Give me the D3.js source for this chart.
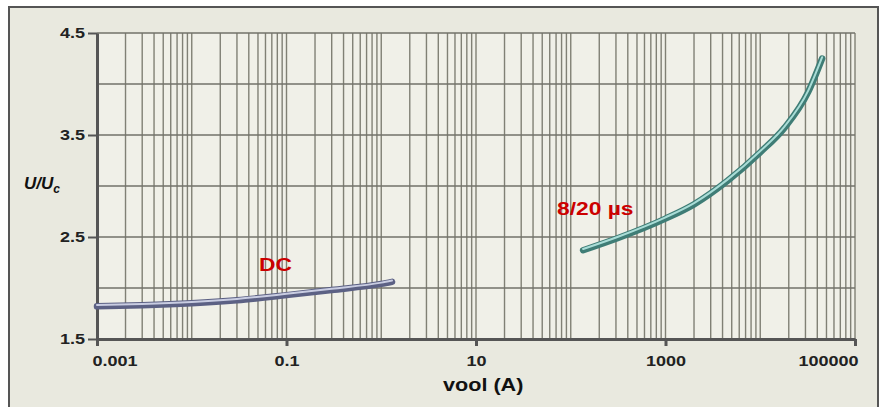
<!DOCTYPE html>
<html>
<head>
<meta charset="utf-8">
<script src="https://cdn.jsdelivr.net/npm/d3@7"></script>
<style>
  body { margin: 0; background: #fff; }
  svg { display: block; font-family: "Liberation Sans", Arial, sans-serif; }
</style>
</head>
<body>
<svg id="chart" width="880" height="407"></svg>
<script>
// current (A) vs U/Uc
const dcCurrent = [0.001, 0.003, 0.01, 0.03, 0.1, 0.3, 1, 1.3];
const dcRatio = [1.82, 1.83, 1.85, 1.88, 1.93, 1.98, 2.04, 2.06];

const surgeCurrent = [135, 316, 1000, 2000, 4500, 10000, 18000, 32000, 45000];
const surgeRatio = [2.37, 2.49, 2.68, 2.82, 3.05, 3.33, 3.57, 3.92, 4.25];

const xTicks = [0.001, 0.1, 10, 1000, 100000];
const xTickLabels = ["0.001", "0.1", "10", "1000", "100000"];
const yTicks = [1.5, 2.5, 3.5, 4.5];
const yGrid = [1.5, 2, 2.5, 3, 3.5, 4, 4.5];

const svg = d3.select("#chart");
const margin = { top: 33, right: 25, bottom: 68, left: 97 };
const width = 880 - margin.left - margin.right;
const height = 407 - margin.top - margin.bottom;

// the source picture is a bit wider than tall, stretch text to match
const stretch = 1.2;
function widen(sel) {
    sel.each(function () {
        const w = this.getComputedTextLength();
        d3.select(this).attr("textLength", w * stretch).attr("lengthAdjust", "spacingAndGlyphs");
    });
}

// frame
svg.append("rect").attr("width", 880).attr("height", 407).attr("fill", "#fff");
svg.append("rect")
    .attr("x", 9).attr("y", 7).attr("width", 869).attr("height", 410)
    .attr("fill", "#e9e9df").attr("stroke", "#555").attr("stroke-width", 2);

const x = d3.scaleLog().domain([0.001, 100000]).range([0, width]);
const y = d3.scaleLinear().domain([1.5, 4.5]).range([height, 0]);

const g = svg.append("g")
    .attr("transform", "translate(" + margin.left + "," + margin.top + ")");

g.append("rect")
    .attr("width", width).attr("height", height)
    .attr("fill", "#f0f0e8");

// log grid: 1..9 in every decade
const minor = [];
for (let e = -3; e < 5; e++) {
    for (let k = 1; k < 10; k++) minor.push(k * Math.pow(10, e));
}
minor.push(100000);

g.append("g").selectAll("line")
    .data(minor)
    .enter().append("line")
    .attr("x1", d => x(d)).attr("x2", d => x(d))
    .attr("y1", 0).attr("y2", height)
    .attr("stroke", "#808075").attr("stroke-width", 1.4);

g.append("g").selectAll("line")
    .data(yGrid)
    .enter().append("line")
    .attr("x1", 0).attr("x2", width)
    .attr("y1", d => y(d)).attr("y2", d => y(d))
    .attr("stroke", "#72726a").attr("stroke-width", 1.6);

// axes
const xAxis = g.append("g")
    .attr("transform", "translate(0," + height + ")")
    .call(d3.axisBottom(x).tickValues(xTicks).tickSize(7).tickSizeOuter(0)
        .tickFormat((d, i) => xTickLabels[i]));
xAxis.select(".domain").attr("stroke", "#555").attr("stroke-width", 3);
xAxis.selectAll(".tick line").attr("stroke", "#555").attr("stroke-width", 3);
xAxis.selectAll(".tick text").attr("dy", "1.15em").attr("y", 10);
// end labels sit inside the plot width
xAxis.selectAll(".tick text")
    .filter((d, i) => i === 0).attr("text-anchor", "start").attr("x", -5);
xAxis.selectAll(".tick text")
    .filter((d, i) => i === xTicks.length - 1).attr("text-anchor", "end").attr("x", 3);

const yAxis = g.append("g")
    .call(d3.axisLeft(y).tickValues(yTicks).tickSize(9).tickSizeOuter(0)
        .tickFormat(d3.format(".1f")));
yAxis.select(".domain").attr("stroke", "#555").attr("stroke-width", 3);
yAxis.selectAll(".tick line").attr("stroke", "#555").attr("stroke-width", 2);
yAxis.selectAll(".tick text").attr("x", -12);

[xAxis, yAxis].forEach(a => a.attr("font-size", null).attr("font-family", null));
const tickText = svg.selectAll(".tick text")
    .attr("font-size", 15).attr("font-weight", "bold").attr("fill", "#222");
widen(tickText);

// curves
const line = d3.line()
    .x(d => x(d[0]))
    .y(d => y(d[1]))
    .curve(d3.curveMonotoneX);

const dcData = d3.zip(dcCurrent, dcRatio);
const surgeData = d3.zip(surgeCurrent, surgeRatio);

function drawCurve(data, dark, light) {
    g.append("path").datum(data).attr("d", line)
        .attr("fill", "none").attr("stroke", dark)
        .attr("stroke-width", 6.5).attr("stroke-linecap", "round");
    g.append("path").datum(data).attr("d", line)
        .attr("fill", "none").attr("stroke", light)
        .attr("stroke-width", 2).attr("stroke-linecap", "round")
        .attr("transform", "translate(0,-1.3)");
}
drawCurve(dcData, "#5c6184", "#c9cde2");
drawCurve(surgeData, "#3f7d76", "#a9ddd7");

// labels
const labels = svg.append("g");
labels.append("text")
    .attr("x", 259).attr("y", 271)
    .attr("fill", "#cc0000").attr("font-weight", "bold").attr("font-size", 19)
    .text("DC");
labels.append("text")
    .attr("x", 557).attr("y", 215)
    .attr("fill", "#cc0000").attr("font-weight", "bold").attr("font-size", 19)
    .text("8/20 µs");

const yl = labels.append("text")
    .attr("x", 24).attr("y", 189)
    .attr("fill", "#111").attr("font-weight", "bold").attr("font-style", "italic")
    .attr("font-size", 17);
yl.append("tspan").text("U/U");
yl.append("tspan").attr("font-size", 12).attr("dy", 4).text("c");

labels.append("text")
    .attr("x", 443).attr("y", 391)
    .attr("fill", "#111").attr("font-weight", "bold").attr("font-size", 18)
    .text("vool (A)");

widen(labels.selectAll("text").filter(function () { return this !== yl.node(); }));
</script>
</body>
</html>
